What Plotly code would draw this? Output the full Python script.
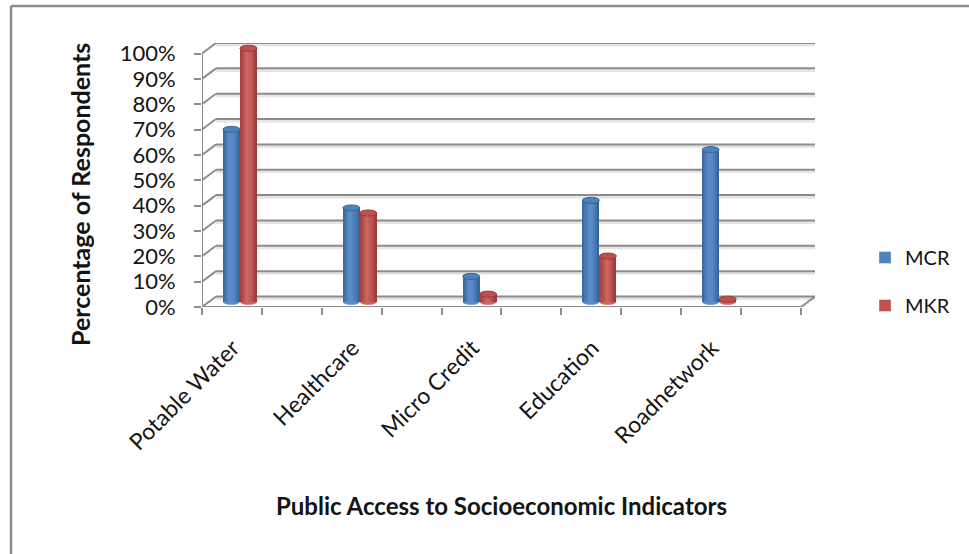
import plotly.graph_objects as go

# ---- data -------------------------------------------------------------
categories = ["Potable Water", "Healthcare", "Micro Credit", "Education", "Roadnetwork"]
mcr = [0.68, 0.37, 0.10, 0.40, 0.60]
mkr = [1.00, 0.35, 0.03, 0.18, 0.01]
y_ticks = [0.0, 0.1, 0.2, 0.3, 0.4, 0.5, 0.6, 0.7, 0.8, 0.9, 1.0]
y_tick_text = ["0%", "10%", "20%", "30%", "40%", "50%", "60%", "70%", "80%", "90%", "100%"]

series = [
    ("MCR", mcr, "#4F81BD",
     ["#3E6AA0", "#4878B3", "#5386C3", "#5A8ECB", "#5789C6", "#4E7FBC", "#4574AD", "#3A659B"],
     "#3A6595"),
    ("MKR", mkr, "#C0504D",
     ["#A6423F", "#B54C49", "#C55C59", "#CB6663", "#C6605D", "#BC5451", "#AE4744", "#9A3C39"],
     "#943C39"),
]

# ---- pseudo-3D frame geometry (axis units) ----------------------------
N = len(categories)
DX = 0.117          # depth shift of the back wall along x
DY = 0.0414         # depth shift of the back wall along y
BASE = DY / 2       # bars stand in the middle of the floor depth
CAT_SHIFT = 0.317   # pair centre inside each category slot
LABEL_SHIFT = -0.06 # category labels sit slightly left of the pair centre
BAR_W = 0.142
CAP_H = 0.012
GRID = "#8C8C8C"
FONT = "Lato"
TXT = "#141414"

# plot area in pixels
L, R, T, B = 202, 815, 43, 307
W, H = 969, 554


def px_x(p):
    return (p - L) / (R - L)


def px_y(p):
    return (B - p) / (B - T)


fig = go.Figure()
shapes = []

# back-wall gridlines with a soft shadow, left-wall diagonals
for v in y_ticks:
    shapes.append(dict(type="line", layer="below", x0=DX, x1=N + DX,
                       y0=v + DY - 0.008, y1=v + DY - 0.008,
                       line=dict(color="rgba(0,0,0,0.10)", width=3)))
    shapes.append(dict(type="line", layer="below", x0=DX, x1=N + DX,
                       y0=v + DY, y1=v + DY, line=dict(color=GRID, width=2)))
    shapes.append(dict(type="line", layer="below", x0=0, x1=DX,
                       y0=v, y1=v + DY, line=dict(color=GRID, width=2)))

# front-left vertical axis, floor front edge and right floor edge
shapes.append(dict(type="line", layer="below", x0=0, x1=0, y0=0, y1=1,
                   line=dict(color=GRID, width=2)))
shapes.append(dict(type="line", layer="below", x0=0, x1=N, y0=0, y1=0,
                   line=dict(color=GRID, width=2)))
shapes.append(dict(type="line", layer="below", x0=N, x1=N + DX, y0=0, y1=DY,
                   line=dict(color=GRID, width=2)))

# cylinders: vertical shaded strips + elliptical bottom and top caps
positions = [i + CAT_SHIFT for i in range(N)]
for s_idx, (name, values, base_col, shades, edge_col) in enumerate(series):
    k = len(shades)
    sw = BAR_W / k
    left_edges = [p - BAR_W + s_idx * BAR_W for p in positions]
    for j, col in enumerate(shades):
        fig.add_trace(go.Bar(
            x=[le + (j + 0.5) * sw for le in left_edges],
            y=values, base=[BASE] * N, width=sw,
            marker=dict(color=col, line=dict(width=0)),
            showlegend=False, hoverinfo="skip",
        ))
    for le, v in zip(left_edges, values):
        shapes.append(dict(type="circle", layer="below",
                           x0=le, x1=le + BAR_W, y0=BASE - CAP_H, y1=BASE + CAP_H,
                           fillcolor=shades[3], line=dict(width=0)))
        top = BASE + v
        shapes.append(dict(type="circle", layer="above",
                           x0=le, x1=le + BAR_W, y0=top - CAP_H, y1=top + CAP_H,
                           fillcolor=base_col, line=dict(color=edge_col, width=1)))
    # legend entry
    fig.add_trace(go.Bar(x=[None], y=[None], name=name, legendgroup=name,
                         marker=dict(color=base_col)))

# outer chart border (left and top edges)
shapes.append(dict(type="line", xref="paper", yref="paper",
                   x0=px_x(11), x1=px_x(11), y0=px_y(6), y1=px_y(H + 5),
                   line=dict(color="#8A8A8A", width=2.5)))
shapes.append(dict(type="line", xref="paper", yref="paper",
                   x0=px_x(11), x1=px_x(W + 5), y0=px_y(6), y1=px_y(6),
                   line=dict(color="#8A8A8A", width=2.5)))

annotations = [
    dict(text="<b>Percentage of Respondents</b>", textangle=-90,
         xref="paper", yref="paper", x=px_x(80), y=px_y(195),
         xanchor="center", yanchor="middle",
         showarrow=False, font=dict(family=FONT, size=25, color=TXT)),
    dict(text="<b>Public Access to Socioeconomic Indicators</b>",
         xref="paper", yref="paper", x=px_x(501), y=px_y(505),
         xanchor="center", yanchor="middle",
         showarrow=False, font=dict(family=FONT, size=24, color=TXT)),
]

fig.update_layout(
    width=W, height=H,
    margin=dict(l=L, r=W - R, t=T, b=H - B, pad=0),
    paper_bgcolor="white", plot_bgcolor="rgba(0,0,0,0)",
    barmode="overlay", bargap=0,
    font=dict(family=FONT, color=TXT),
    shapes=shapes, annotations=annotations,
    legend=dict(x=px_x(865), y=px_y(238), xanchor="left", yanchor="top",
                font=dict(family=FONT, size=20, color=TXT),
                tracegroupgap=19, bgcolor="rgba(0,0,0,0)"),
    xaxis=dict(range=[0, N + DX], showgrid=False, zeroline=False, showline=False,
               tickmode="array", tickvals=[p + LABEL_SHIFT for p in positions],
               ticktext=categories,
               ticks="", tickangle=-45, ticklabelstandoff=22,
               tickfont=dict(family=FONT, size=23, color=TXT),
               minor=dict(tickmode="linear", tick0=0, dtick=0.5, ticks="outside",
                          ticklen=7, tickwidth=2, tickcolor=GRID, showgrid=False),
               fixedrange=True),
    yaxis=dict(range=[0, 1 + DY], showgrid=False, zeroline=False, showline=False,
               tickmode="array", tickvals=y_ticks, ticktext=y_tick_text,
               ticks="outside", ticklen=7, tickwidth=2, tickcolor=GRID,
               ticklabelstandoff=14,
               tickfont=dict(family=FONT, size=22, color=TXT),
               fixedrange=True),
)

fig.write_html("out.html")
